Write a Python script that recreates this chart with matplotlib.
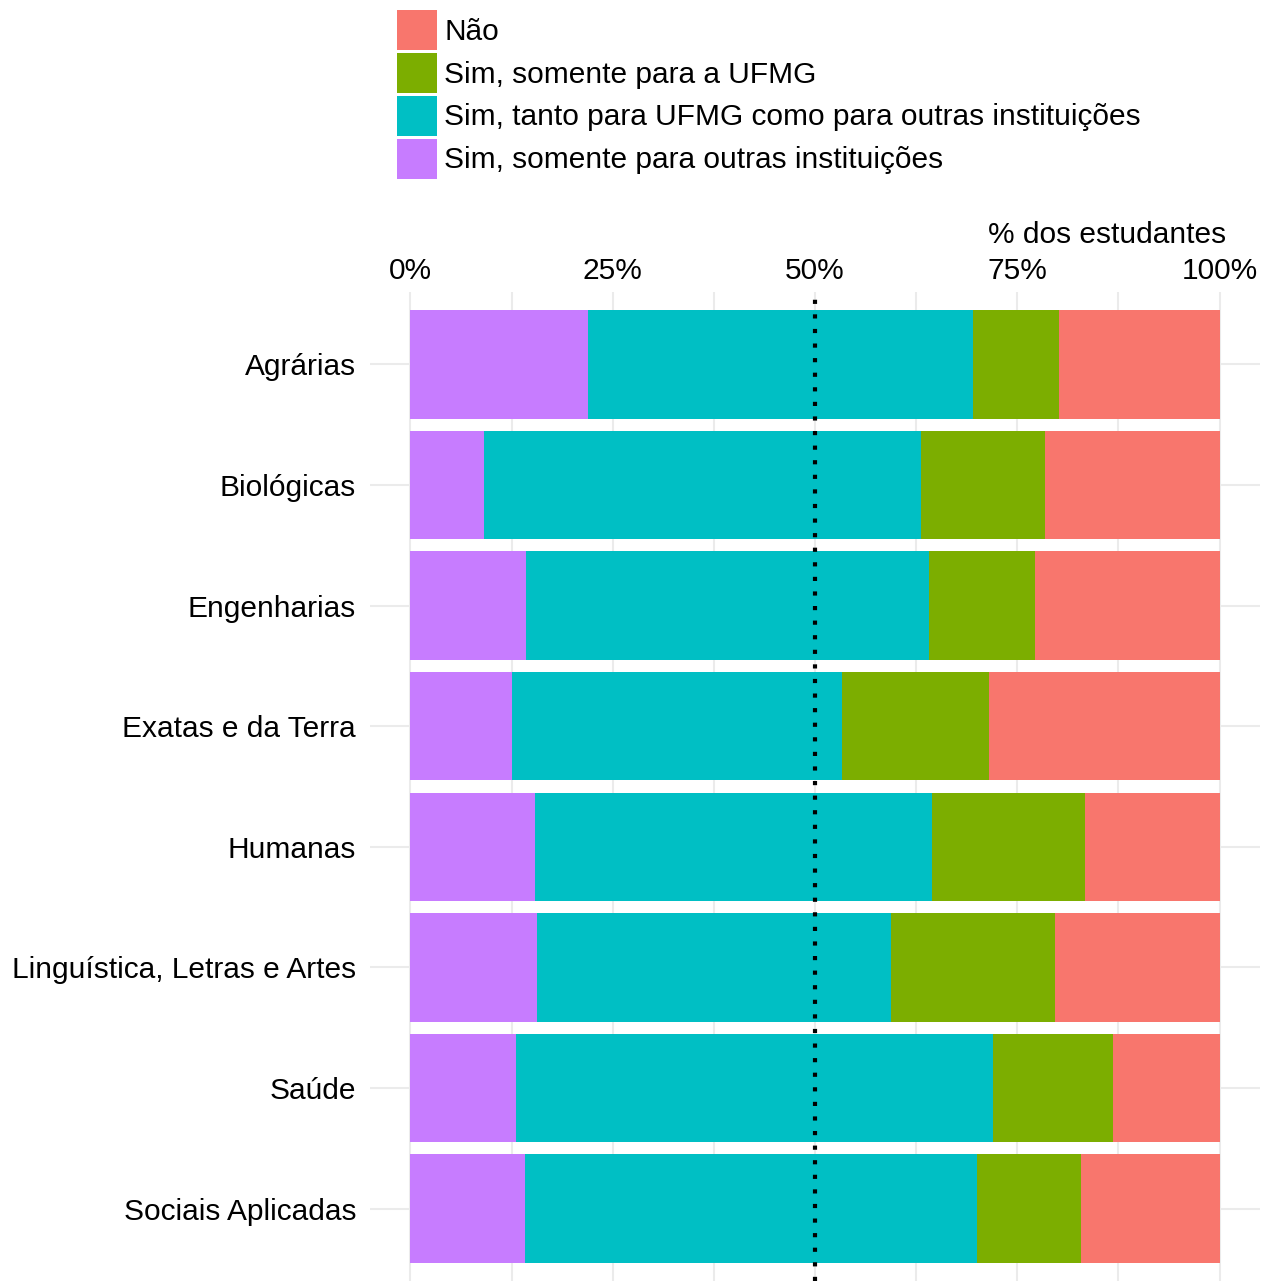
import matplotlib
matplotlib.use("Agg")
import matplotlib.pyplot as plt
import numpy as np

# dados: proporção acumulada
areas = ["Agrárias", "Biológicas", "Engenharias", "Exatas e da Terra",
         "Humanas", "Linguística, Letras e Artes", "Saúde", "Sociais Aplicadas"]
so_outras = [0.219, 0.091, 0.143, 0.126, 0.154, 0.157, 0.131, 0.142]
ate_tanto = [0.695, 0.631, 0.641, 0.533, 0.644, 0.594, 0.720, 0.700]
ate_ufmg = [0.801, 0.784, 0.772, 0.715, 0.834, 0.797, 0.868, 0.829]

respostas = ["Não", "Sim, somente para a UFMG",
             "Sim, tanto para UFMG como para outras instituições",
             "Sim, somente para outras instituições"]
cores = ["#F8766D", "#7CAE00", "#00BFC4", "#C77CFF"]

plt.rcParams['font.family'] = ['Liberation Sans', 'DejaVu Sans']

W, H = 1263, 1281
fs = 21.5
fig = plt.figure(figsize=(W / 100, H / 100), dpi=100)
ax = fig.add_axes([370 / W, 0, (1260 - 370) / W, (H - 292) / H])

y = np.arange(len(areas))
so_outras = np.array(so_outras)
ate_tanto = np.array(ate_tanto)
ate_ufmg = np.array(ate_ufmg)

segs = [(ate_ufmg, 1 - ate_ufmg), (ate_tanto, ate_ufmg - ate_tanto),
        (so_outras, ate_tanto - so_outras), (np.zeros(len(y)), so_outras)]
for (esq, larg), cor, rot in zip(segs, cores, respostas):
    ax.barh(y, larg, left=esq, height=0.9, color=cor, label=rot, zorder=2)

ax.axvline(0.5, color="black", lw=3, ls=(0, (1, 2.5)), zorder=3)

ax.set_xlim(-0.05, 1.05)
ax.set_ylim(len(areas) - 0.4, -0.6)
ax.set_xticks([0, 0.25, 0.5, 0.75, 1.0])
ax.set_xticklabels(["0%", "25%", "50%", "75%", "100%"])
ax.set_xticks([0.125, 0.375, 0.625, 0.875], minor=True)
ax.set_yticks(y)
ax.set_yticklabels(areas)
ax.xaxis.tick_top()
ax.tick_params(axis="y", length=0, labelsize=fs, pad=10)
ax.tick_params(axis="x", length=0, labelsize=fs, pad=5)
ax.tick_params(axis="x", which="minor", length=0)
ax.grid(True, which="both", color="#EBEBEB", lw=1.5, zorder=0)
for s in ax.spines.values():
    s.set_visible(False)

fig.text(1226 / W, 1 - 235 / H, "% dos estudantes", ha="right", va="center", fontsize=fs)

h, l = ax.get_legend_handles_labels()
fig.legend(h, l, loc="upper left", bbox_to_anchor=(385 / W, 1 + 2 / H),
           frameon=False, fontsize=fs, handlelength=1.33, handleheight=1.68,
           handletextpad=0.25, labelspacing=0.1, borderaxespad=0)

fig.savefig("out.png", dpi=100)
